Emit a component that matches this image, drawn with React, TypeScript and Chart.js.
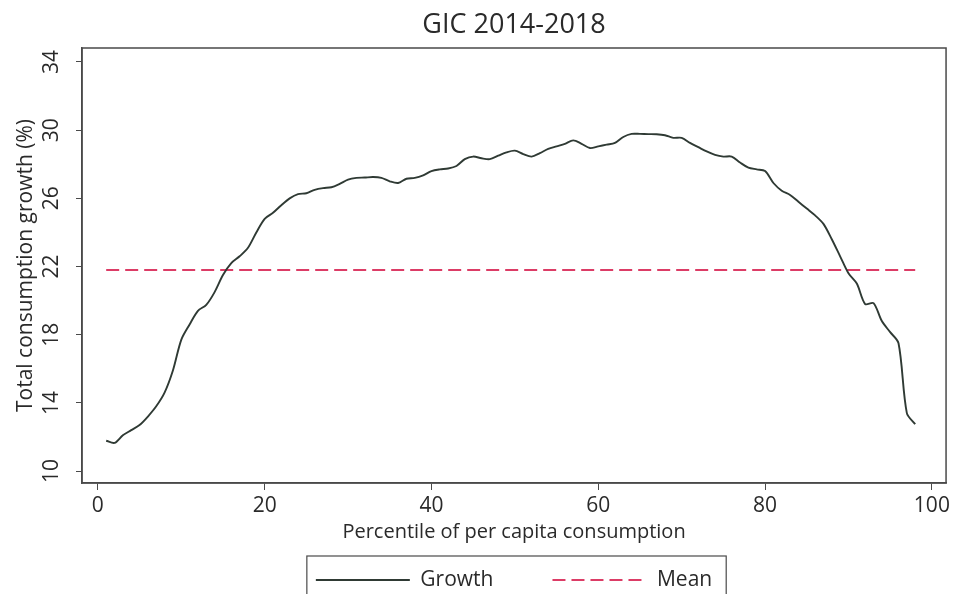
import React, { useEffect, useRef } from "react";
import { Chart, registerables } from "chart.js";

Chart.register(...registerables);

const TITLE = "GIC 2014-2018";
const X_TITLE = "Percentile of per capita consumption";
const Y_TITLE = "Total consumption growth (%)";

const PERCENTILES = [
  1, 2, 3, 4, 5, 6, 7, 8, 9, 10, 11, 12, 13, 14, 15, 16, 17, 18, 19, 20,
  21, 22, 23, 24, 25, 26, 27, 28, 29, 30, 31, 32, 33, 34, 35, 36, 37, 38, 39, 40,
  41, 42, 43, 44, 45, 46, 47, 48, 49, 50, 51, 52, 53, 54, 55, 56, 57, 58, 59, 60,
  61, 62, 63, 64, 65, 66, 67, 68, 69, 70, 71, 72, 73, 74, 75, 76, 77, 78, 79, 80,
  81, 82, 83, 84, 85, 86, 87, 88, 89, 90, 91, 92, 93, 94, 95, 96, 97, 98,
];

const GROWTH = [
  11.78, 11.65, 12.1, 12.4, 12.7, 13.2, 13.8, 14.6, 15.9, 17.7,
  18.6, 19.4, 19.75, 20.5, 21.5, 22.2, 22.6, 23.1, 24.0, 24.8,
  25.15, 25.6, 26.0, 26.25, 26.3, 26.5, 26.6, 26.65, 26.85, 27.1,
  27.2, 27.22, 27.25, 27.2, 27.0, 26.9, 27.15, 27.2, 27.35, 27.6,
  27.7, 27.75, 27.9, 28.3, 28.45, 28.35, 28.3, 28.5, 28.7, 28.8,
  28.6, 28.45, 28.65, 28.9, 29.05, 29.2, 29.4, 29.2, 28.95, 29.05,
  29.15, 29.25, 29.6, 29.78, 29.78, 29.77, 29.76, 29.7, 29.55, 29.55,
  29.25, 29.0, 28.75, 28.55, 28.45, 28.45, 28.1, 27.8, 27.7, 27.6,
  26.9, 26.45, 26.2, 25.8, 25.4, 25.0, 24.5, 23.6, 22.6, 21.6,
  21.0, 19.8, 19.85, 18.8, 18.15, 17.5, 13.4, 12.75,
];

const MEAN_VALUE = 21.8;
const MEAN_X = [1, 98];

const X_TICKS = [0, 20, 40, 60, 80, 100];
const Y_TICKS = [10, 14, 18, 22, 26, 30, 34];

const FONT = "'Open Sans', sans-serif";
const TEXT_COLOR = "#2a2a2a";
const AXIS_COLOR = "#4a4a4a";

const LEGEND_FONT = 21;
const LEGEND_PAD = 59;
const LEGEND_CENTER_Y = 580;

const legendPlace = {
  id: "legendPlace",
  afterLayout(chart: any) {
    const lg = chart.legend;
    if (!lg) return;
    const top = LEGEND_CENTER_Y - LEGEND_PAD - LEGEND_FONT / 2;
    const dy = top - lg.top;
    lg.top += dy;
    lg.bottom += dy;
  },
};

const framePlugin = {
  id: "frame",
  afterDraw(chart: any) {
    const { ctx, chartArea: a } = chart;
    ctx.save();
    ctx.strokeStyle = AXIS_COLOR;
    ctx.lineWidth = 1.5;
    ctx.strokeRect(a.left, a.top, a.right - a.left, a.bottom - a.top);
    const lg = chart.legend;
    if (lg && lg.legendHitBoxes && lg.legendHitBoxes.length) {
      const hb = lg.legendHitBoxes;
      const l = Math.min(...hb.map((h: any) => h.left)) - 9;
      const r = Math.max(...hb.map((h: any) => h.left + h.width)) + 14;
      const cy = hb[0].top + hb[0].height / 2;
      ctx.lineWidth = 1.2;
      ctx.strokeRect(l, cy - 24, r - l, 60);
    }
    ctx.restore();
  },
};

export default function App() {
  const ref = useRef<HTMLCanvasElement | null>(null);

  useEffect(() => {
    if (!ref.current) return;
    const chart = new Chart(ref.current, {
      type: "line",
      data: {
        datasets: [
          {
            label: "Growth",
            data: PERCENTILES.map((p, i) => ({ x: p, y: GROWTH[i] })),
            borderColor: "#2f3a34",
            borderWidth: 1.9,
            pointRadius: 0,
            pointStyle: "line",
            tension: 0.3,
            fill: false,
          },
          {
            label: "Mean",
            data: MEAN_X.map((x) => ({ x, y: MEAN_VALUE })),
            borderColor: "#dc3c66",
            borderWidth: 2,
            borderDash: [13, 6],
            pointRadius: 0,
            pointStyle: "line",
            fill: false,
          },
        ],
      },
      options: {
        animation: false,
        responsive: true,
        maintainAspectRatio: false,
        layout: { padding: { left: 0, right: 4, top: 0, bottom: 0 } },
        plugins: {
          title: {
            display: true,
            fullSize: false,
            text: TITLE,
            color: TEXT_COLOR,
            font: { family: FONT, size: 27, weight: "normal" },
            padding: { top: 9, bottom: 6.6 },
          },
          legend: {
            display: true,
            position: "bottom",
            fullSize: false,
            labels: {
              usePointStyle: true,
              pointStyle: "line",
              pointStyleWidth: 94,
              padding: LEGEND_PAD,
              color: TEXT_COLOR,
              font: { family: FONT, size: LEGEND_FONT },
              generateLabels: (chart: any) => {
                const items = (Chart.defaults.plugins.legend.labels as any).generateLabels(chart);
                items.forEach((it: any) => {
                  const ds: any = chart.data.datasets[it.datasetIndex];
                  it.lineDash = ds.borderDash || [];
                  it.lineWidth = ds.borderWidth;
                  it.strokeStyle = ds.borderColor;
                });
                return items;
              },
            },
          },
          tooltip: { enabled: false },
        },
        scales: {
          x: {
            type: "linear",
            min: -1.9,
            max: 101.7,
            afterBuildTicks: (scale: any) => {
              scale.ticks = X_TICKS.map((v) => ({ value: v }));
            },
            afterFit: (scale: any) => {
              scale.height = 78;
            },
            grid: {
              drawOnChartArea: false,
              drawTicks: true,
              tickLength: 7,
              color: AXIS_COLOR,
            },
            border: { display: true, color: AXIS_COLOR, width: 1.5 },
            ticks: {
              color: TEXT_COLOR,
              font: { family: FONT, size: 21 },
              padding: 3,
              maxRotation: 0,
              autoSkip: false,
            },
            title: {
              display: true,
              text: X_TITLE,
              color: TEXT_COLOR,
              font: { family: FONT, size: 20 },
              padding: { top: 0, bottom: 17 },
            },
          },
          y: {
            type: "linear",
            min: 9.3,
            max: 34.82,
            afterBuildTicks: (scale: any) => {
              scale.ticks = Y_TICKS.map((v) => ({ value: v }));
            },
            afterFit: (scale: any) => {
              scale.width = 82;
            },
            grid: {
              drawOnChartArea: false,
              drawTicks: true,
              tickLength: 6,
              color: AXIS_COLOR,
            },
            border: { display: true, color: AXIS_COLOR, width: 1.5 },
            ticks: {
              color: TEXT_COLOR,
              font: { family: FONT, size: 21 },
              padding: 12,
              minRotation: 90,
              maxRotation: 90,
              crossAlign: "center",
              autoSkip: false,
            },
            title: {
              display: true,
              text: Y_TITLE,
              color: TEXT_COLOR,
              font: { family: FONT, size: 21 },
              padding: { top: 13, bottom: 0 },
            },
          },
        },
      },
      plugins: [legendPlace, framePlugin],
    });
    return () => chart.destroy();
  }, []);

  return (
    <div
      style={{
        position: "fixed",
        left: 0,
        top: 0,
        width: 953,
        height: 594,
        overflow: "hidden",
        background: "#ffffff",
      }}
    >
      <div style={{ position: "relative", width: 953, height: 651 }}>
        <canvas ref={ref} />
      </div>
    </div>
  );
}
